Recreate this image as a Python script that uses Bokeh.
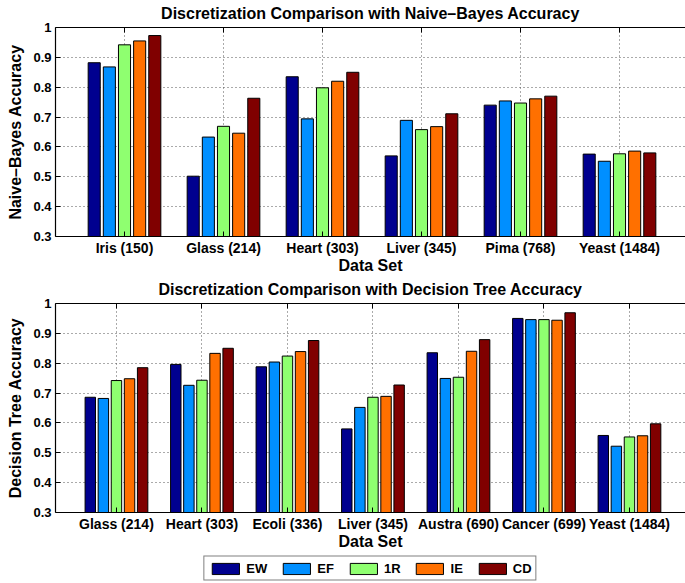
from bokeh.plotting import figure
from bokeh.models import (ColumnDataSource, FixedTicker, LinearAxis, Range1d, Legend,
                          LegendItem, CustomJSTickFormatter)
from bokeh.transform import dodge
from bokeh.layouts import column
from bokeh.embed import file_html
from bokeh.resources import INLINE

methods = ["EW", "EF", "1R", "IE", "CD"]
colors = ["#00008F", "#008FFF", "#8FFF70", "#FF7000", "#800000"]

nb_sets = ["Iris (150)", "Glass (214)", "Heart (303)", "Liver (345)", "Pima (768)", "Yeast (1484)"]
nb_EW = [0.882, 0.502, 0.835, 0.570, 0.740, 0.576]
nb_EF = [0.868, 0.633, 0.694, 0.689, 0.754, 0.552]
nb_1R = [0.942, 0.669, 0.798, 0.658, 0.747, 0.577]
nb_IE = [0.955, 0.646, 0.820, 0.668, 0.761, 0.586]
nb_CD = [0.973, 0.763, 0.850, 0.711, 0.770, 0.580]

dt_sets = ["Glass (214)", "Heart (303)", "Ecoli (336)", "Liver (345)", "Austra (690)",
           "Cancer (699)", "Yeast (1484)"]
dt_EW = [0.686, 0.796, 0.788, 0.580, 0.835, 0.950, 0.558]
dt_EF = [0.682, 0.726, 0.804, 0.652, 0.749, 0.946, 0.522]
dt_1R = [0.742, 0.743, 0.824, 0.686, 0.753, 0.946, 0.553]
dt_IE = [0.748, 0.833, 0.839, 0.689, 0.840, 0.944, 0.557]
dt_CD = [0.785, 0.850, 0.876, 0.727, 0.879, 0.969, 0.597]

y_ticks = [0.3, 0.4, 0.5, 0.6, 0.7, 0.8, 0.9, 1.0]

FONT = "Liberation Sans"
OFFSETS = [-0.306, -0.153, 0.0, 0.153, 0.306]
BAR_W = 0.122


def make_source(series, n):
    return ColumnDataSource(dict(x=list(range(1, n + 1)), **{m: s for m, s in zip(methods, series)}))


def make_fig(title, ylabel, sets, series, x_start, unit_px):
    n = len(sets)
    pos = list(range(1, n + 1))
    frame_w = 630
    x_end = x_start + frame_w / unit_px
    p = figure(frame_width=frame_w, frame_height=209,
               x_range=Range1d(x_start, x_end), y_range=Range1d(0.3, 1.0),
               output_backend="svg", toolbar_location=None,
               min_border_left=55, min_border_right=0, min_border_top=0,
               min_border_bottom=0,
               x_axis_location=None, y_axis_location=None)
    p.outline_line_color = None
    p.background_fill_color = "white"

    src = make_source(series, n)
    for m, c, off in zip(methods, colors, OFFSETS):
        p.vbar(x=dodge("x", off), top=m, bottom=0, width=BAR_W, source=src,
               fill_color=c, line_color="black", line_width=1)

    xt = FixedTicker(ticks=pos)
    yt = FixedTicker(ticks=y_ticks)

    xb = LinearAxis(ticker=xt, axis_label="Data Set")
    xb.major_label_overrides = {i: s for i, s in zip(pos, sets)}
    xa = LinearAxis(ticker=xt)
    xa.major_label_overrides = {i: "" for i in pos}
    yl = LinearAxis(ticker=yt, axis_label=ylabel,
                    formatter=CustomJSTickFormatter(code="return String(Math.round(tick*10)/10)"))
    for ax in (xb, xa, yl):
        ax.major_tick_in = 5
        ax.major_tick_out = 0
        ax.minor_tick_line_color = None
        ax.axis_line_color = "black"
        ax.axis_line_width = 1.2
        ax.major_tick_line_color = "black"
        ax.major_label_text_font = FONT
        ax.major_label_text_font_style = "bold"
        ax.major_label_text_color = "black"
        ax.axis_label_text_font = FONT
        ax.axis_label_text_font_style = "bold"
        ax.axis_label_text_font_size = "16px"
        ax.axis_label_text_color = "black"
    xb.major_label_text_font_size = "14px"
    xb.major_label_standoff = 3
    xb.axis_label_standoff = -2
    yl.major_label_text_font_size = "13px"
    yl.major_label_standoff = 4
    yl.axis_label_standoff = 6
    xa.major_label_text_font_size = "1px"
    xa.major_label_standoff = 0
    p.add_layout(xb, "below")
    p.add_layout(yl, "left")
    p.add_layout(xa, "above")

    p.xgrid.ticker = xt
    p.ygrid.ticker = yt
    for g in (p.xgrid, p.ygrid):
        g.grid_line_color = "#555555"
        g.grid_line_dash = "1 3"
        g.grid_line_width = 1

    p.title.text = title
    p.title.text_font = FONT
    p.title.text_font_style = "bold"
    p.title.text_font_size = "16px"
    p.title.text_color = "black"
    p.title.align = "center"
    p.title.vertical_align = "top"
    p.title.standoff = 8
    return p


p1 = make_fig("Discretization Comparison with Naive\u2013Bayes Accuracy", "Naive\u2013Bayes Accuracy",
              nb_sets, [nb_EW, nb_EF, nb_1R, nb_IE, nb_CD], 0.303, 99.0)
p2 = make_fig("Discretization Comparison with Decision Tree Accuracy", "Decision Tree Accuracy",
              dt_sets, [dt_EW, dt_EF, dt_1R, dt_IE, dt_CD], 0.287, 85.5)

# legend strip: the same series, drawn outside this strip's visible range so only the key shows
p3 = figure(width=685, height=32, title=None, x_range=Range1d(0, 8), y_range=Range1d(2, 3),
            output_backend="svg", toolbar_location=None,
            min_border_left=55, min_border_right=0, min_border_top=0, min_border_bottom=0,
            x_axis_location=None, y_axis_location=None)
p3.outline_line_color = None
for g in p3.grid:
    g.visible = False
src3 = make_source([dt_EW, dt_EF, dt_1R, dt_IE, dt_CD], len(dt_sets))
swatches = [p3.vbar(x=dodge("x", off), top=m, bottom=0, width=BAR_W, source=src3,
                    fill_color=c, line_color="black", line_width=1)
            for m, c, off in zip(methods, colors, OFFSETS)]
lg = Legend(items=[LegendItem(label=m, renderers=[r], index=0) for m, r in zip(methods, swatches)],
            orientation="horizontal", location="center")
lg.label_text_font = FONT
lg.label_text_font_style = "bold"
lg.label_text_font_size = "13px"
lg.label_text_color = "black"
lg.glyph_width = 34
lg.glyph_height = 14
lg.label_height = 14
lg.label_standoff = 4
lg.label_width = 8
lg.spacing = 12
lg.padding = 4
lg.margin = 0
lg.border_line_color = "black"
lg.border_line_width = 1.5
p3.add_layout(lg, "center")

layout = column(p1, p2, p3, spacing=0)
open("out.html", "w").write(file_html(layout, INLINE))
